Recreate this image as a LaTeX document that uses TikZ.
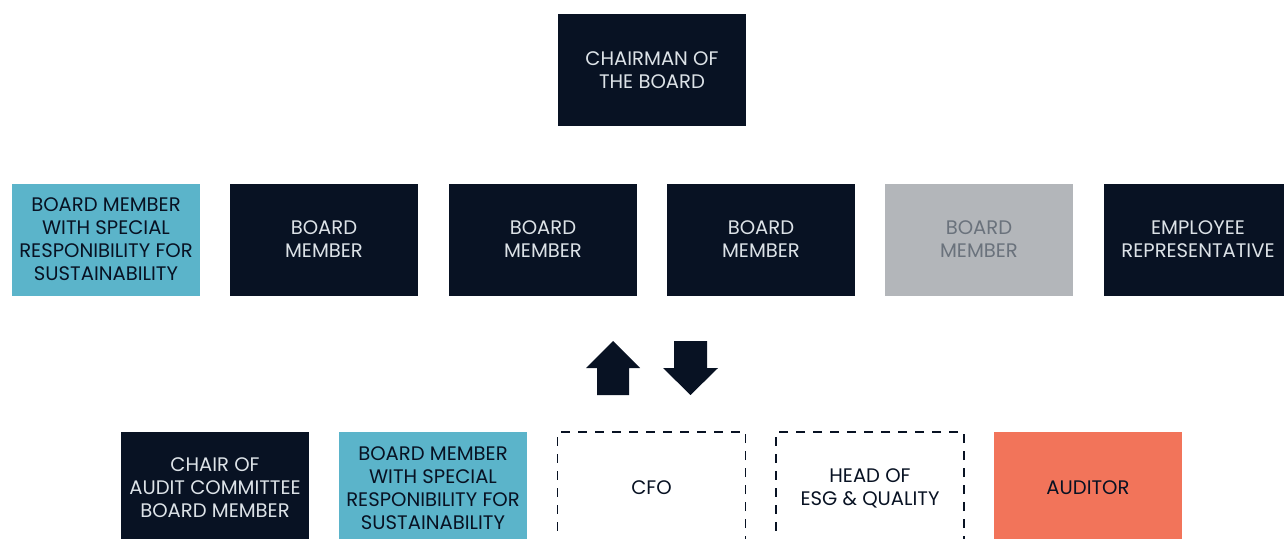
\documentclass[tikz,border=0pt]{standalone}
\usepackage{fontspec}
\setmainfont{Poppins}

\definecolor{boardnavy}{HTML}{081223}
\definecolor{boardtext}{HTML}{DCE2E7}
\definecolor{boardteal}{HTML}{5BB4CA}
\definecolor{boardgrey}{HTML}{B3B6BA}
\definecolor{greytext}{HTML}{6A727C}
\definecolor{boardorange}{HTML}{F2745A}

\begin{document}
\begin{tikzpicture}[
    x=1pt, y=-1pt,
    every node/.style={align=center, inner sep=0pt,
        minimum width=188pt, minimum height=112pt,
        font=\fontsize{19.6}{23}\selectfont},
    dark/.style={fill=boardnavy, text=boardtext},
    sust/.style={fill=boardteal, text=boardnavy},
    off/.style={fill=boardgrey, text=greytext},
    exec/.style={draw=boardnavy, line width=1.4pt, dash pattern=on 9pt off 8pt, text=boardnavy},
    audit/.style={fill=boardorange, text=boardnavy},
    bigarrow/.style={fill=boardnavy}
]

\useasboundingbox (0,0) rectangle (1284,538);
\clip (0,0) rectangle (1284,538);

% Board
\node (chair)  [dark] at (652,70)    {CHAIRMAN OF\\THE BOARD};

\node (sust)   [sust] at (106,239.5) {BOARD MEMBER\\WITH SPECIAL\\RESPONIBILITY FOR\\SUSTAINABILITY};
\node (memA)   [dark] at (324,239.5) {BOARD\\MEMBER};
\node (memB)   [dark] at (543,239.5) {BOARD\\MEMBER};
\node (memC)   [dark] at (761,239.5) {BOARD\\MEMBER};
\node (memD)   [off]  at (979,239.5) {BOARD\\MEMBER};
\node (empl)   [dark] at (1198,239.5) {EMPLOYEE\\REPRESENTATIVE};

% Audit committee
\node (achair) [dark]  at (215,488)   {CHAIR OF\\AUDIT COMMITTEE\\BOARD MEMBER};
\node (asust)  [sust]  at (433,488)   {BOARD MEMBER\\WITH SPECIAL\\RESPONIBILITY FOR\\SUSTAINABILITY};
\node (cfo)    [exec]  at (651.5,488) {CFO};
\node (esg)    [exec]  at (870,488)   {HEAD OF\\ESG \& QUALITY};
\node (auditor)[audit] at (1088,488)  {AUDITOR};

% Arrows
\fill[bigarrow] (613,341) -- (640,368) -- (629,368) -- (629,395)
    -- (597,395) -- (597,368) -- (586,368) -- cycle;
\fill[bigarrow] (690.5,395) -- (718,368) -- (707,368) -- (707,341)
    -- (674,341) -- (674,368) -- (663,368) -- cycle;

\end{tikzpicture}
\end{document}
